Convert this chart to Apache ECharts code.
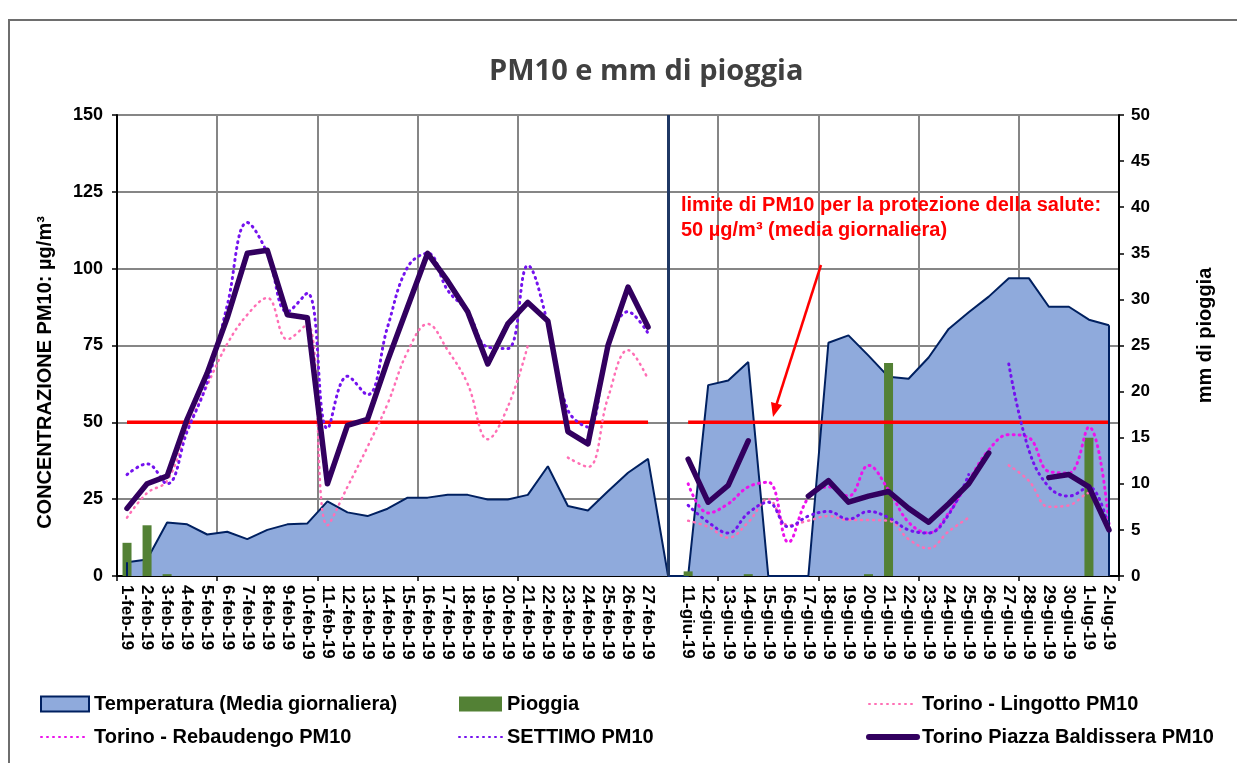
<!DOCTYPE html>
<html>
<head>
<meta charset="utf-8">
<title>PM10 e mm di pioggia</title>
<script src="https://cdn.jsdelivr.net/npm/echarts@6/dist/echarts.min.js"></script>
<style>
  html, body { margin: 0; padding: 0; background: #fff; }
  #chart { width: 1237px; height: 763px; }
</style>
</head>
<body>
<div id="chart"></div>
<script>
// categorie: febbraio, una colonna vuota di separazione, giugno/luglio
const giorni = [
  '1-feb-19', '2-feb-19', '3-feb-19', '4-feb-19', '5-feb-19', '6-feb-19', '7-feb-19', '8-feb-19', '9-feb-19',
  '10-feb-19', '11-feb-19', '12-feb-19', '13-feb-19', '14-feb-19', '15-feb-19', '16-feb-19', '17-feb-19',
  '18-feb-19', '19-feb-19', '20-feb-19', '21-feb-19', '22-feb-19', '23-feb-19', '24-feb-19', '25-feb-19',
  '26-feb-19', '27-feb-19',
  ' ',
  '11-giu-19', '12-giu-19', '13-giu-19', '14-giu-19', '15-giu-19', '16-giu-19', '17-giu-19', '18-giu-19',
  '19-giu-19', '20-giu-19', '21-giu-19', '22-giu-19', '23-giu-19', '24-giu-19', '25-giu-19', '26-giu-19',
  '27-giu-19', '28-giu-19', '29-giu-19', '30-giu-19', '1-lug-19', '2-lug-19'
]

// temperatura media giornaliera (asse destro)
const temperatura = [
  1.5, 1.8, 5.8, 5.6, 4.5, 4.8, 4.0, 5.0, 5.6, 5.7, 8.1, 6.9, 6.5, 7.3, 8.5, 8.5, 8.8, 8.8, 8.3, 8.3, 8.8, 11.9, 7.6, 7.1, 9.2, 11.2, 12.7,
  0,
  0, 20.7, 21.2, 23.2, 0, 0, 0, 25.3, 26.1, 23.9, 21.6, 21.4, 23.7, 26.8, 28.6, 30.3, 32.3, 32.3, 29.2, 29.2, 27.8, 27.2
]

// pioggia in mm (asse destro)
const pioggia = [
  3.6, 5.5, 0.2, null, null, null, null, null, null, null, null, null, null, null, null, null, null, null, null, null, null, null, null, null, null, null, null,
  null,
  0.5, null, null, 0.2, null, null, null, null, null, 0.2, 23.1, null, null, null, null, null, null, null, null, null, 15.0, null
]

const limite = [
  50, 50, 50, 50, 50, 50, 50, 50, 50, 50, 50, 50, 50, 50, 50, 50, 50, 50, 50, 50, 50, 50, 50, 50, 50, 50, 50,
  null,
  50, 50, 50, 50, 50, 50, 50, 50, 50, 50, 50, 50, 50, 50, 50, 50, 50, 50, 50, 50, 50, 50
]

const lingotto = [
  19, 27, 31, 47.5, 62, 75.5, 85, 90.5, 77, 82, 16.5, 29, 42, 56, 73, 82, 73.5, 62.5, 44.5, 55, 75, null, 38.5, 35.5, 58, 73.5, 64,
  null,
  18, 16, 12.5, 17.5, 25, 16.5, 18, 19.5, 18.2, 18.2, 18, 12, 9, 14.5, 19, null, 36, 31, 22.5, 23, 27, 14
]

const rebaudengo = [
  null, null, null, null, null, null, null, null, null, null, null, null, null, null, null, null, null, null, null, null, null, null, null, null, null, null, null,
  null,
  30, 20.5, 23.5, 29, 30.5, 11, 25.5, 29, 26, 36, 28, 17.5, 14, 20.5, 31, 41, 46, 45, 34, 33.5, 48.5, 17
]

const settimo = [
  33, 36.5, 30, 47, 63, 88, 115, 105, 86, 92, 48, 65, 59, 81, 100.5, 105, 93, 86, 74.5, 74, 101, 82, 54, 48.5, 74.5, 86, 79,
  null,
  23, 17.5, 14, 20.5, 24, 16, 19.5, 21, 18.5, 21, 19, 15, 14, 20, 33, null, 69, 41, 29, 26, 29, 15
]

const baldissera = [
  22, 30, 32.5, 51, 66, 84, 105, 106, 85, 84, 30, 49, 51, 70, 87.5, 105, 96, 86, 69, 82, 89, 83, 47, 43, 75, 94, 81,
  null,
  38, 24, 29.5, 44, null, null, 26, 31, 24, 26, 27.5, 22, 17.5, 23.5, 30, 40, null, null, 32, 33, 29, 15
]

const font = "'Liberation Sans', Arial, sans-serif"
const separatore = giorni.indexOf(' ')
const ultimo = giorni.length - 1
// griglia verticale ogni 5 giorni, tranne quella coperta dal separatore
const ogniCinque = (i) => i % 5 === 0 && i !== 25

const dotted = (color, width) => ({ color, width, type: [1, 5], cap: 'round' })
const legendText = { fontFamily: font, fontSize: 20, fontWeight: 'bold', color: '#000' }
const noSymbol = { opacity: 0 }

const chart = echarts.init(document.getElementById('chart'))

chart.setOption({
  animation: false,
  backgroundColor: '#fff',
  title: {
    text: 'PM10 e mm di pioggia',
    left: 484,
    top: 52,
    textStyle: { fontFamily: "'Open Sans', sans-serif", fontSize: 29, fontWeight: 'bold', color: '#404040' }
  },
  grid: { left: 117, right: 118, top: 115, bottom: 187, outerBoundsMode: 'none' },
  legend: [
    {
      left: 40, top: 694, padding: 0, orient: 'vertical', itemGap: 13, itemWidth: 48, itemHeight: 15, selectedMode: false,
      textStyle: legendText,
      data: [
        { name: 'Temperatura (Media giornaliera)', icon: 'rect', itemStyle: { color: '#8faadc', borderColor: '#002060', borderWidth: 2 } },
        { name: 'Torino - Rebaudengo PM10', itemStyle: noSymbol }
      ]
    },
    {
      left: 458, top: 694, padding: 0, orient: 'vertical', itemGap: 13, itemWidth: 43, itemHeight: 15, selectedMode: false,
      textStyle: legendText,
      data: [{ name: 'Pioggia', icon: 'rect' }, { name: 'SETTIMO PM10', itemStyle: noSymbol }]
    },
    {
      left: 866, top: 694, padding: 0, orient: 'vertical', itemGap: 13, itemWidth: 48, itemHeight: 15, selectedMode: false,
      textStyle: legendText,
      data: [
        { name: 'Torino - Lingotto PM10', itemStyle: noSymbol },
        { name: 'Torino Piazza Baldissera PM10', itemStyle: noSymbol, lineStyle: { width: 6, cap: 'round' } }
      ]
    }
  ],
  xAxis: {
    type: 'category',
    data: giorni,
    boundaryGap: true,
    axisLine: { lineStyle: { color: '#000', width: 2 } },
    axisTick: { show: true, interval: ogniCinque, length: 5, lineStyle: { color: '#000', width: 1.5 } },
    axisLabel: { interval: 0, rotate: -90, margin: 9, fontFamily: font, fontSize: 17, fontWeight: 'bold', color: '#000' },
    splitLine: { show: true, interval: ogniCinque, lineStyle: { color: '#868686', width: 2 } }
  },
  yAxis: [
    {
      type: 'value', min: 0, max: 150, interval: 25,
      name: 'CONCENTRAZIONE PM10: µg/m³', nameLocation: 'middle', nameGap: 62,
      nameTextStyle: { fontFamily: font, fontSize: 20, fontWeight: 'bold', color: '#000', padding: [0, 54, 0, 0] },
      axisLine: { show: true, lineStyle: { color: '#000', width: 2 } },
      axisTick: { show: true, length: 5, lineStyle: { color: '#000', width: 1.5 } },
      axisLabel: { margin: 14, fontFamily: font, fontSize: 18, fontWeight: 'bold', color: '#000' },
      splitLine: { show: true, lineStyle: { color: '#868686', width: 2 } }
    },
    {
      type: 'value', min: 0, max: 50, interval: 5, position: 'right',
      name: 'mm di pioggia', nameLocation: 'middle', nameGap: 76,
      nameTextStyle: { fontFamily: font, fontSize: 20, fontWeight: 'bold', color: '#000', padding: [0, 0, 0, 20] },
      axisLine: { show: true, lineStyle: { color: '#000', width: 2 } },
      axisTick: { show: true, length: 5, lineStyle: { color: '#000', width: 1.5 } },
      axisLabel: { margin: 12, fontFamily: font, fontSize: 17, fontWeight: 'bold', color: '#000' },
      splitLine: { show: false }
    }
  ],
  series: [
    {
      name: 'Temperatura (Media giornaliera)',
      type: 'line',
      yAxisIndex: 1,
      data: temperatura,
      symbol: 'none',
      z: 1,
      lineStyle: { color: '#002060', width: 2 },
      itemStyle: { color: '#8faadc' },
      areaStyle: { color: '#8faadc', opacity: 1 },
      markLine: {
        silent: true, symbol: 'none', label: { show: false },
        lineStyle: { color: '#002060', width: 2, type: 'solid' },
        data: [
          [{ coord: [0, 0] }, { coord: [0, temperatura[0]] }],
          [{ coord: [ultimo, 0] }, { coord: [ultimo, temperatura[ultimo]] }]
        ]
      }
    },
    {
      name: 'Pioggia',
      type: 'bar',
      yAxisIndex: 1,
      data: pioggia,
      barWidth: 9,
      z: 2,
      itemStyle: { color: '#538135' }
    },
    {
      name: 'limite',
      type: 'line',
      data: limite,
      symbol: 'none',
      z: 3,
      lineStyle: { color: '#ff0000', width: 3.5 },
      markLine: {
        silent: true, symbol: 'none', label: { show: false },
        lineStyle: { color: '#1f3864', width: 3, type: 'solid' },
        data: [{ xAxis: separatore }]
      }
    },
    {
      name: 'Torino - Lingotto PM10',
      type: 'line', data: lingotto, smooth: 0.4, symbol: 'none', z: 4,
      itemStyle: { color: '#ff6fb5' },
      lineStyle: dotted('#ff6fb5', 2.5)
    },
    {
      name: 'Torino - Rebaudengo PM10',
      type: 'line', data: rebaudengo, smooth: 0.4, symbol: 'none', z: 4,
      itemStyle: { color: '#ec12ec' },
      lineStyle: dotted('#ec12ec', 3)
    },
    {
      name: 'SETTIMO PM10',
      type: 'line', data: settimo, smooth: 0.4, symbol: 'none', z: 5,
      itemStyle: { color: '#7412ee' },
      lineStyle: dotted('#7412ee', 3)
    },
    {
      name: 'Torino Piazza Baldissera PM10',
      type: 'line', data: baldissera, symbol: 'none', z: 6,
      itemStyle: { color: '#32005f' },
      lineStyle: { color: '#32005f', width: 5.5, cap: 'round', join: 'round' }
    }
  ],
  graphic: [
    { type: 'rect', silent: true, z: -1, shape: { x: 9, y: 20, width: 1240, height: 760 }, style: { fill: 'none', stroke: '#6e6e6e', lineWidth: 2 } },
    {
      type: 'text', left: 681, top: 195, z: 100,
      style: { text: 'limite di PM10 per la protezione della salute:', fill: '#ff0000', font: "bold 20px 'Liberation Sans', Arial" }
    },
    {
      type: 'text', left: 681, top: 220, z: 100,
      style: { text: '50 µg/m³ (media giornaliera)', fill: '#ff0000', font: "bold 20px 'Liberation Sans', Arial" }
    },
    { type: 'line', z: 100, shape: { x1: 821, y1: 265, x2: 776, y2: 406 }, style: { stroke: '#ff0000', lineWidth: 2.5 } },
    { type: 'polygon', z: 100, shape: { points: [[773, 417], [782, 405], [771, 402]] }, style: { fill: '#ff0000' } }
  ]
})
</script>
</body>
</html>
